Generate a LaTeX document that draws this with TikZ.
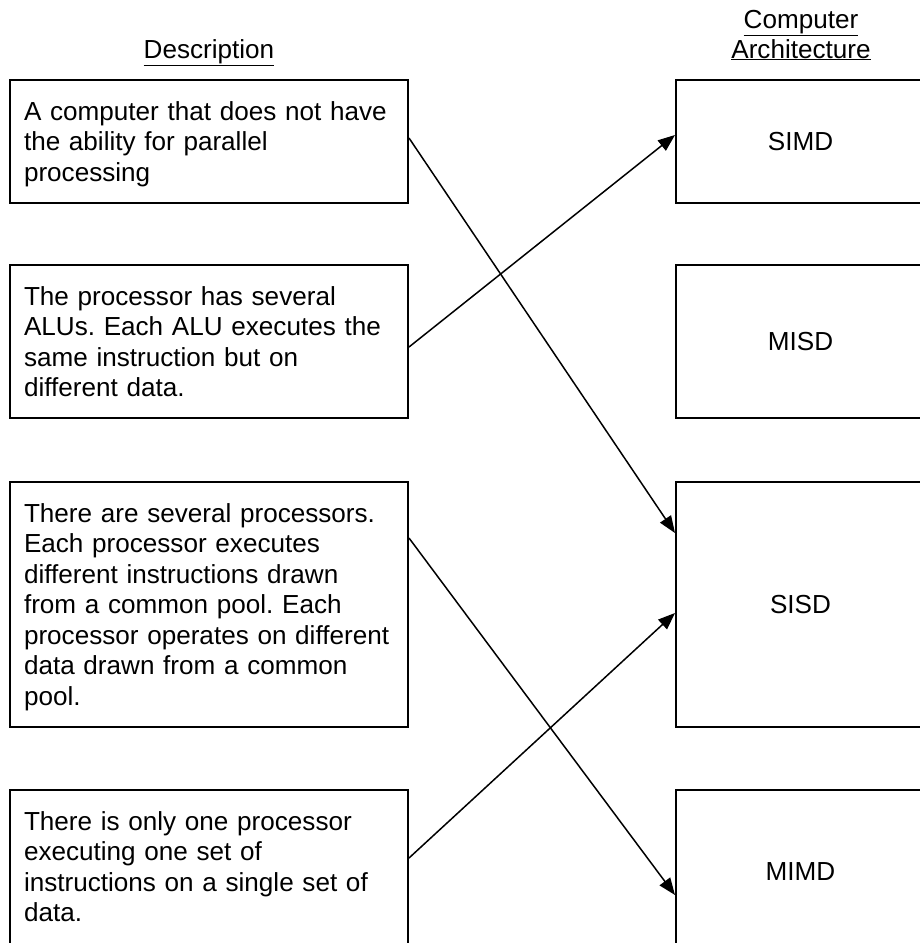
\documentclass[tikz,border=0pt]{standalone}
\usepackage{fontspec}
\setmainfont{Liberation Sans}
\usetikzlibrary{arrows.meta}
\hyphenpenalty=10000
\exhyphenpenalty=10000
\frenchspacing

\begin{document}
\begin{tikzpicture}[
		x=1pt, y=-1pt,
		every node/.style={font=\fontsize{26.1}{30.5}\selectfont},
		descbox/.style={draw, line width=2pt, text width=370pt, inner xsep=14pt, inner ysep=0pt, align=left, text height=40pt},
		archbox/.style={draw, line width=2pt, minimum width=249pt, inner sep=0pt},
		link/.style={line width=1.5pt, -{Triangle[length=17pt, width=13pt]}}
	]
  \useasboundingbox (0,0) rectangle (919,943);
  \node (deschead) [anchor=base] at (209,58) {\underline{Description}};
  \node (archhead1) [anchor=base] at (801,28) {\underline{Computer}};
  \node (archhead2) [anchor=base] at (801,58) {\underline{Architecture}};
  \node (desc1) [descbox, text depth=83pt] at (209,141.5) {A computer that does not have\\the ability for parallel\\processing};
  \node (desc2) [descbox, text depth=113pt] at (209,341.5) {The processor has several\\ALUs. Each ALU executes the\\same instruction but on\\different data.};
  \node (desc3) [descbox, text depth=205pt] at (209,604.5) {There are several processors.\\Each processor executes\\different instructions drawn\\from a common pool. Each\\processor operates on different\\data drawn from a common\\pool.};
  \node (desc4) [descbox, text depth=123pt] at (209,871.5) {There is only one processor\\executing one set of\\instructions on a single set of\\data.};
  \node (simd) [archbox, minimum height=123pt] at (800.5,141.5) {SIMD};
  \node (misd) [archbox, minimum height=153pt] at (800.5,341.5) {MISD};
  \node (sisd) [archbox, minimum height=245pt] at (800.5,604.5) {SISD};
  \node (mimd) [archbox, minimum height=163pt] at (800.5,871.5) {MIMD};
  \draw [link] ([yshift=3.5pt]desc1.east) -- ([yshift=71.5pt]sisd.west);
  \draw [link] ([yshift=-5.5pt]desc2.east) -- ([yshift=6.5pt]simd.west);
  \draw [link] ([yshift=66.5pt]desc3.east) -- ([yshift=-23.5pt]mimd.west);
  \draw [link] ([yshift=13.5pt]desc4.east) -- ([yshift=-8.5pt]sisd.west);
\end{tikzpicture}
\end{document}
